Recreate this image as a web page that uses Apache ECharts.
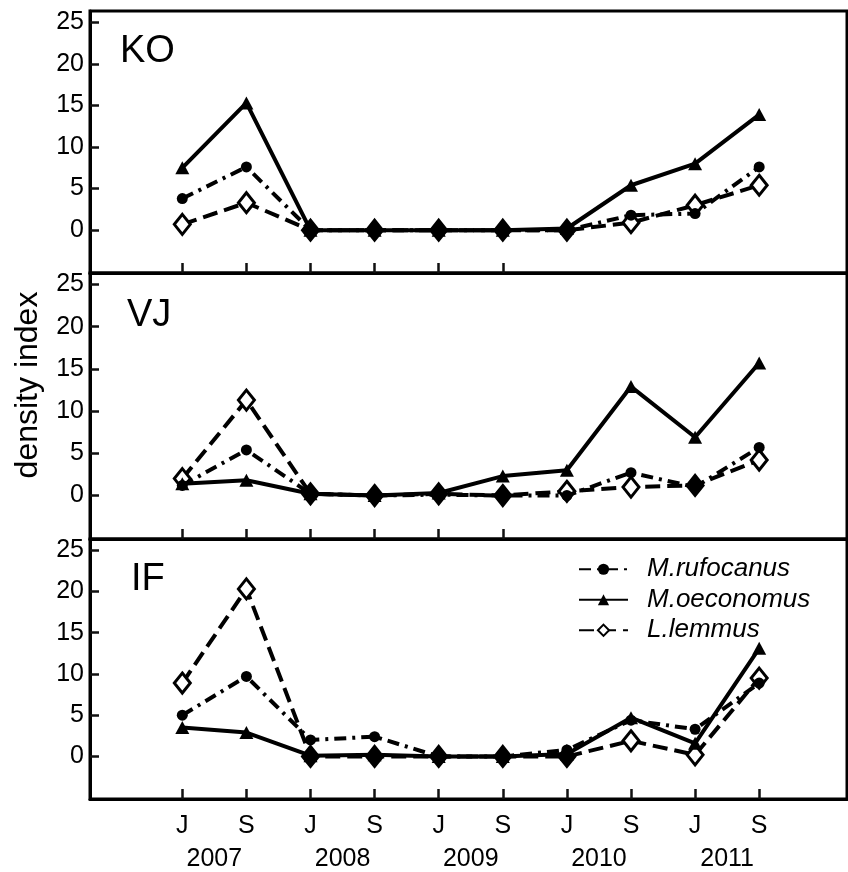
<!DOCTYPE html>
<html><head><meta charset="utf-8">
<script src="https://cdn.jsdelivr.net/npm/echarts@6/dist/echarts.min.js"></script>
<style>html,body{margin:0;padding:0;background:#fff}#c{width:848px;height:872px}</style>
</head><body><div id="c"></div>
<script>
// ---- data ----
const seasons = ['J','S','J','S','J','S','J','S','J','S'];
const years = ['2007','2008','2009','2010','2011'];
const yTickValues = [0, 5, 10, 15, 20, 25];
const panelNames = ['KO', 'VJ', 'IF'];
const speciesNames = ['M.rufocanus', 'M.oeconomus', 'L.lemmus'];

const KO_rufocanus = [3.8, 7.6, 0, 0, 0, 0, 0, 1.8, 2.0, 7.6];
const KO_oeconomus = [7.5, 15.3, 0, 0, 0, 0, 0.2, 5.4, 8.0, 13.9];
const KO_lemmus    = [0.7, 3.3, 0, 0, 0, 0, 0, 0.9, 3.0, 5.4];

const VJ_rufocanus = [1.2, 5.4, 0.2, 0, 0.1, 0, 0, 2.7, 1.0, 5.7];
const VJ_oeconomus = [1.4, 1.8, 0.2, 0, 0.3, 2.3, 3.0, 12.9, 6.9, 15.7];
const VJ_lemmus    = [2.0, 11.3, 0.2, 0, 0.2, 0, 0.5, 1.0, 1.2, 4.2];

const IF_rufocanus = [5.0, 9.7, 2.0, 2.4, 0, 0, 0.8, 4.4, 3.3, 8.9];
const IF_oeconomus = [3.5, 2.9, 0.1, 0.2, 0, 0, 0.3, 4.7, 1.6, 13.1];
const IF_lemmus    = [8.9, 20.3, 0, 0, 0, 0, 0, 1.9, 0.2, 9.5];

const panelData = [
  [KO_rufocanus, KO_oeconomus, KO_lemmus],
  [VJ_rufocanus, VJ_oeconomus, VJ_lemmus],
  [IF_rufocanus, IF_oeconomus, IF_lemmus]
];

// ---- layout / style ----
const FONT = '"Liberation Sans", Arial, Helvetica, sans-serif';
const grids = [
  {top: 11, height: 262},
  {top: 273, height: 266},
  {top: 539, height: 264}
];
const xMin = -1.44, xMax = 10.37;
const yMin = -5.15, yMax = 26.35;

const speciesStyle = [
  {symbol: 'circle', symbolSize: 11, dash: [12, 6, 3, 6], fill: '#000', border: 0, z: 3},
  {symbol: 'triangle', symbolSize: [14, 13], dash: 'solid', fill: '#000', border: 0, z: 4},
  {symbol: 'diamond', symbolSize: [16, 20], dash: [15, 7], fill: '#fff', border: 3, z: 2}
];

const option = {
  animation: false,
  grid: grids.map(g => ({left: 90, right: 1, top: g.top, height: g.height, show: true,
    borderColor: '#000', borderWidth: 3})),
  xAxis: [],
  yAxis: [],
  series: [],
  legend: {
    orient: 'vertical', left: 573, top: 549,
    itemWidth: 49, itemHeight: 14, itemGap: 0,
    selectedMode: false,
    data: speciesNames,
    textStyle: {fontSize: 26, fontStyle: 'italic', fontFamily: FONT, color: '#000',
      lineHeight: 30.5, padding: [0, 0, 0, 14]}
  },
  graphic: []
};

grids.forEach((g, p) => {
  const last = p === grids.length - 1;
  option.xAxis.push({
    type: 'value', gridIndex: p, min: xMin, max: xMax,
    axisLine: {show: true, onZero: false, lineStyle: {color: '#000', width: 3}},
    splitLine: {show: false},
    axisTick: {show: true, inside: true, length: 10,
      customValues: last ? seasons.map((s, i) => i) : [0, 1, 2, 3, 4, 5],
      lineStyle: {color: '#111', width: 2.5}},
    axisLabel: {show: last, customValues: seasons.map((s, i) => i),
      formatter: v => seasons[Math.round(v)] || '',
      fontSize: 25, fontFamily: FONT, color: '#000', margin: 15}
  });
  option.yAxis.push({
    type: 'value', gridIndex: p, min: yMin, max: yMax,
    axisLine: {show: true, onZero: false, lineStyle: {color: '#000', width: 3}},
    splitLine: {show: false},
    axisTick: {show: true, inside: true, length: 9, customValues: yTickValues,
      lineStyle: {color: '#111', width: 2.5}},
    axisLabel: {customValues: yTickValues, fontSize: 25, fontFamily: FONT, color: '#000', margin: 6}
  });
  const vals = panelData[p];
  vals.forEach((arr, s) => {
    const st = speciesStyle[s];
    option.series.push({
      type: 'line', name: speciesNames[s], xAxisIndex: p, yAxisIndex: p,
      data: arr.map((v, i) => {
        // diamond looks filled where another species' marker sits on it
        const covered = s === 2 && (Math.abs(vals[0][i] - v) < 0.4 || Math.abs(vals[1][i] - v) < 0.4);
        return covered ? {value: [i, v], itemStyle: {color: '#000'}} : [i, v];
      }),
      symbol: st.symbol, symbolSize: st.symbolSize, showSymbol: true, showAllSymbol: true,
      z: st.z,
      lineStyle: {color: '#000', width: 4, type: st.dash},
      itemStyle: {color: st.fill, borderColor: '#000', borderWidth: st.border, opacity: 1},
      emphasis: {disabled: true}
    });
  });
});

// year axis under the bottom panel
option.xAxis.push({
  type: 'value', gridIndex: 2, min: xMin, max: xMax, position: 'bottom', offset: 0,
  axisLine: {show: false, onZero: false}, splitLine: {show: false}, axisTick: {show: false},
  axisLabel: {customValues: years.map((y, i) => 2 * i + 0.5),
    formatter: v => years[Math.round((v - 0.5) / 2)] || '',
    fontSize: 25, fontFamily: FONT, color: '#000', margin: 48}
});

// panel labels
const panelLabelPos = [[120, 49], [127, 313], [131, 577]];
panelNames.forEach((n, p) => {
  option.graphic.push({type: 'text', left: panelLabelPos[p][0], top: panelLabelPos[p][1] - 16,
    style: {text: n, fontSize: 38, fontFamily: FONT, fill: '#000'}});
});
option.graphic.push({type: 'text', x: 28, y: 385, rotation: Math.PI / 2,
  style: {text: 'density index', fontSize: 32, fontFamily: FONT, fill: '#000',
    align: 'center', verticalAlign: 'middle'}});

const chart = echarts.init(document.getElementById('c'), null, {renderer: 'canvas'});
chart.setOption(option);
</script></body></html>
